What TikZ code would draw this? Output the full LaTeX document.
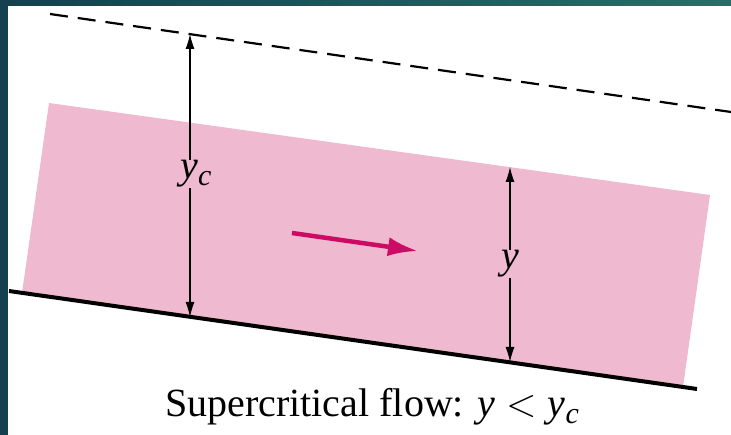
\RequirePackage{fix-cm}
\documentclass[tikz,border=0pt]{standalone}
\usepackage{fontspec}
\setmainfont{Liberation Serif}
\usetikzlibrary{arrows.meta}
\definecolor{flowpink}{RGB}{239,185,207}
\definecolor{flowarrow}{RGB}{205,10,100}
\definecolor{frameblue}{RGB}{20,64,80}
\definecolor{frameteal}{RGB}{44,108,104}
\newcommand{\sym}[1]{\textit{#1}}
\newcommand{\symc}{\raisebox{-0.35ex}{\fontsize{30}{32}\selectfont\sym{c}}}
\begin{document}
\begin{tikzpicture}[x=1pt,y=-1pt,
    dim/.style={line width=1.1pt,{Latex[length=15pt,width=9pt]}-{Latex[length=15pt,width=9pt]}},
    lbl/.style={fill=flowpink,inner sep=1pt,font=\fontsize{40}{44}\selectfont}]
        \useasboundingbox (0,0) rectangle (731,435);
        % frame
        \fill[white] (0,0) rectangle (731,435);
        \shade[left color=frameblue,right color=frameteal] (0,0) rectangle (731,6);
        \fill[frameblue] (0,0) rectangle (8,435);
        % water body
        \fill[flowpink] (49,103) -- (710,195) -- (683,387) -- (22,293) -- cycle;
        % channel bed
        \draw[line width=4pt] (9,291) -- (697,389);
        % critical depth line
        \draw[line width=2.2pt,dash pattern=on 18pt off 10pt] (50,14) -- (731,112);
        % depth markers
        \coordinate (yctop) at (190,34);
        \coordinate (ycbot) at (190,317);
        \coordinate (ytop) at (510,167);
        \coordinate (ybot) at (510,362);
        \draw[dim] (yctop) -- (ycbot);
        \draw[dim] (ytop) -- (ybot);
        \node[lbl] (yc) at (196,174) {\sym{y}\symc};
        \node[lbl] (y) at (510,264) {\sym{y}};
        % flow direction
        \coordinate (flowa) at (292,233);
        \coordinate (flowb) at (418,251);
        \draw[line width=4.5pt,flowarrow,-{Latex[length=30pt,width=19pt]}] (flowa) -- (flowb);
        % caption
        \node[anchor=base,font=\fontsize{40}{44}\selectfont] (cap) at (372,417)
            {Supercritical flow: \sym{y}\;$<$\;\sym{y}\symc};
\end{tikzpicture}
\end{document}
